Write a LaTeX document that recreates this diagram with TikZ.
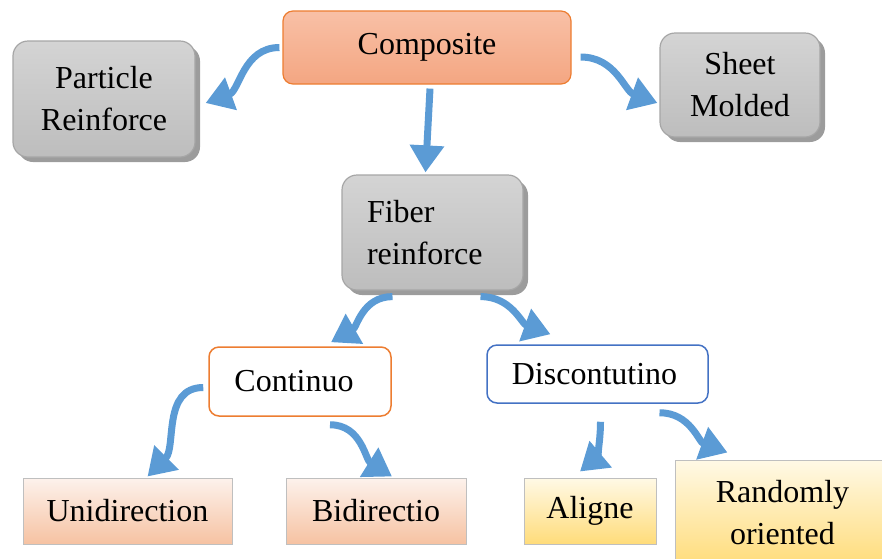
\documentclass[tikz,border=0pt]{standalone}
\usepackage{fontspec}
\setmainfont{Liberation Serif}
\usepackage{xcolor}
\usetikzlibrary{arrows.meta,shadows}

\definecolor{flowblue}{HTML}{5B9BD5}
\definecolor{comptop}{HTML}{F8C0A6}
\definecolor{compbot}{HTML}{F4A682}
\definecolor{orangeedge}{HTML}{ED7D31}
\definecolor{blueedge}{HTML}{4472C4}
\definecolor{greytop}{HTML}{D4D4D4}
\definecolor{greybot}{HTML}{BDBDBD}
\definecolor{greyedge}{HTML}{A6A6A6}
\definecolor{greyshadow}{HTML}{9C9C9C}
\definecolor{peachtop}{HTML}{FDF2EC}
\definecolor{peachbot}{HTML}{F6C2A2}
\definecolor{yellowtop}{HTML}{FFF9E6}
\definecolor{yellowbot}{HTML}{FFDC7A}
\definecolor{leafedge}{HTML}{BFBFBF}

\begin{document}
\begin{tikzpicture}[x=1pt,y=-1pt]
\tikzset{every node/.style={font=\fontsize{32}{42}\selectfont,align=center,inner sep=0pt}}
\tikzset{greybox/.style={draw=greyedge,line width=1.2pt,top color=greytop,bottom color=greybot,rounded corners=15pt,
  drop shadow={shadow xshift=5pt,shadow yshift=-5pt,fill=greyshadow,opacity=1}}}
\tikzset{branchbox/.style={draw,line width=1.5pt,fill=white,rounded corners=10pt}}
\tikzset{peachleaf/.style={draw=leafedge,line width=1pt,top color=peachtop,bottom color=peachbot}}
\tikzset{yellowleaf/.style={draw=leafedge,line width=1pt,top color=yellowtop,bottom color=yellowbot}}
\tikzset{flow/.style={draw=flowblue,line width=7pt,-{Triangle[width=33pt,length=27pt]}}}

\useasboundingbox (0,0) rectangle (882,558);
\clip (0,0) rectangle (882,558);

\node[draw=orangeedge,line width=1.2pt,top color=comptop,bottom color=compbot,rounded corners=10pt,
  minimum width=288pt,minimum height=73pt] (comp) at (427,47.5) {Composite};
\node[greybox,minimum width=182pt,minimum height=116pt] (part) at (104,99) {Particle\\Reinforce};
\node[greybox,minimum width=160pt,minimum height=104pt] (sheet) at (740,85) {Sheet\\Molded};
\node[greybox,minimum height=115pt,text width=131pt,inner xsep=25pt,align=left] (fiber) at (432.5,232.5) {Fiber\\reinforce};

\node[branchbox,draw=orangeedge,minimum width=182pt,minimum height=69pt] (cont) at (300,381.5) {Continuo\hspace{12pt}};
\node[branchbox,draw=blueedge,minimum width=221pt,minimum height=58pt] (disc) at (597.5,374) {Discontutino\hspace{6pt}};

\node[peachleaf,minimum width=209pt,minimum height=66pt] (uni) at (127.5,511) {Unidirection};
\node[peachleaf,minimum width=180pt,minimum height=66pt] (bi) at (376,511) {Bidirectio};
\node[yellowleaf,minimum width=132pt,minimum height=66pt] (aligne) at (590,511) {Aligne};
\node[yellowleaf,minimum width=215pt,minimum height=106pt] (rand) at (782.5,513) {Randomly\\oriented};

\draw[flow] ([xshift=-3pt]comp.west) to[out=180,in=20] ([xshift=10pt,yshift=-4pt]part.east);
\draw[flow] ([xshift=3pt,yshift=-4pt]comp.south) -- ([xshift=-7pt,yshift=2pt]fiber.north);
\draw[flow] ([xshift=9pt,yshift=-9.5pt]comp.east) to[out=0,in=160] ([xshift=-2pt,yshift=-18pt]sheet.west);

\draw[flow] ([xshift=-40pt,yshift=-6pt]fiber.south) to[out=180,in=30] ([xshift=31pt,yshift=4pt]cont.north);
\draw[flow] ([xshift=48pt,yshift=-6pt]fiber.south) to[out=0,in=160] ([xshift=-47pt,yshift=10pt]disc.north);

\draw[flow] ([xshift=-5pt,yshift=-6pt]cont.west) to[out=180,in=45] ([xshift=20pt,yshift=1pt]uni.north);
\draw[flow] ([xshift=30pt,yshift=-8pt]cont.south) to[out=0,in=148] ([xshift=16pt,yshift=1pt]bi.north);
\draw[flow] ([xshift=3pt,yshift=-18pt]disc.south) to[out=-90,in=40] ([xshift=-10pt,yshift=6pt]aligne.north);
\draw[flow] ([xshift=62pt,yshift=-9pt]disc.south) to[out=0,in=160] ([xshift=-55pt,yshift=7pt]rand.north);

\end{tikzpicture}
\end{document}
